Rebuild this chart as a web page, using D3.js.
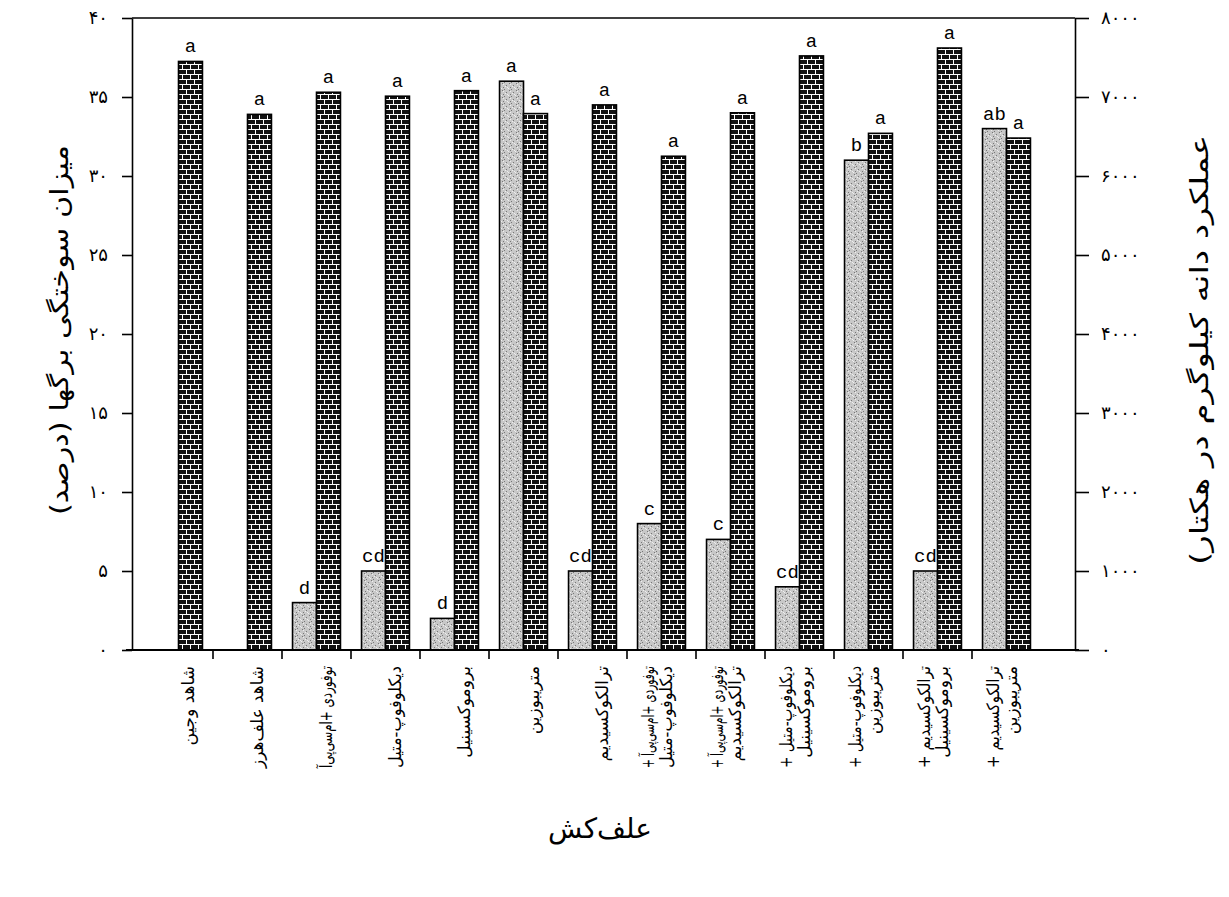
<!doctype html>
<html lang="fa">
<head>
    <meta charset="UTF-8">
    <title>chart</title>
    <script src="https://cdn.jsdelivr.net/npm/d3@7"></script>
    <style>
        body { margin: 0; background: #fff; }
        #chart text { fill: #000; }
        .cat, .ytitle { font-family: "DejaVu Sans", sans-serif; }
        .letter { font-family: "Liberation Mono", "DejaVu Sans Mono", monospace; }
    </style>
</head>
<body>
<svg id="chart" width="1229" height="897"></svg>
<script>
    // treatments (x axis)
    var categories = [
        ['شاهد وجین'],
        ['شاهد علف‌هرز'],
        ['توفوردی +ام‌سی‌پی‌آ'],
        ['دیکلوفوپ-متیل'],
        ['بروموکسینیل'],
        ['متریبوزین'],
        ['ترالکوکسیدیم'],
        ['توفوردی +ام‌سی‌پی‌آ +', 'دیکلوفوپ-متیل'],
        ['توفوردی +ام‌سی‌پی‌آ +', 'ترالکوکسیدیم'],
        ['دیکلوفوپ-متیل +', 'بروموکسینیل'],
        ['دیکلوفوپ-متیل +', 'متریبوزین'],
        ['ترالکوکسیدیم +', 'بروموکسینیل'],
        ['ترالکوکسیدیم +', 'متریبوزین']
    ]
    // leaf burn (%) - left axis, stippled bars
    var burn = [0, 0, 3, 5, 2, 36, 5, 8, 7, 4, 31, 5, 33]
    var burnLetters = ['', '', 'd', 'cd', 'd', 'a', 'cd', 'c', 'c', 'cd', 'b', 'cd', 'ab']
    // grain yield (kg/ha) - right axis, brick bars
    var grain = [7450, 6780, 7060, 7010, 7080, 6790, 6900, 6250, 6800, 7520, 6540, 7620, 6480]
    var grainLetters = ['a', 'a', 'a', 'a', 'a', 'a', 'a', 'a', 'a', 'a', 'a', 'a', 'a']

    var leftTicks = [0, 5, 10, 15, 20, 25, 30, 35, 40]
    var rightTicks = [0, 1000, 2000, 3000, 4000, 5000, 6000, 7000, 8000]

    var xTitle = 'علف‌کش'
    var yLeftTitle = 'میزان سوختگی برگها (درصد)'
    var yRightTitle = 'عملکرد دانه  کیلوگرم در هکتار)'

    var padL = 132, padR = 1075, padT = 18, padB = 650

    function fa(v) {
        return String(v).replace(/\d/g, function(d) { return '۰۱۲۳۴۵۶۷۸۹'[+d] })
    }

    var svg = d3.select('#chart')

    // patterns
    var defs = svg.append('defs')
    var brick = defs.append('pattern')
        .attr('id', 'brick').attr('patternUnits', 'userSpaceOnUse')
        .attr('width', 8).attr('height', 10)
    brick.append('rect').attr('width', 8).attr('height', 10).attr('fill', '#111')
    brick.append('rect').attr('x', 0).attr('y', 4).attr('width', 8).attr('height', 1).attr('fill', '#fff')
    brick.append('rect').attr('x', 0).attr('y', 9).attr('width', 8).attr('height', 1).attr('fill', '#fff')
    brick.append('rect').attr('x', 2).attr('y', 0).attr('width', 1).attr('height', 4).attr('fill', '#fff')
    brick.append('rect').attr('x', 6).attr('y', 5).attr('width', 1).attr('height', 4).attr('fill', '#fff')

    var stip = defs.append('pattern')
        .attr('id', 'stip').attr('patternUnits', 'userSpaceOnUse')
        .attr('width', 7).attr('height', 7)
    stip.append('rect').attr('width', 7).attr('height', 7).attr('fill', '#c8c8c8')
    ;[[0,0],[3,1],[5,4],[1,5],[4,3],[6,6],[2,2],[0,3]].forEach(function(p, i) {
        stip.append('rect').attr('x', p[0]).attr('y', p[1]).attr('width', 1).attr('height', 1)
            .attr('fill', i % 2 ? '#777' : '#eee')
    })

    var idx = d3.range(categories.length)
    var x = d3.scaleBand().domain(idx).range([144, 1041])
    var xSub = d3.scaleBand().domain(['burn', 'grain']).range([0, x.bandwidth()]).paddingOuter(0.44)
    var yL = d3.scaleLinear().domain([0, 40]).range([padB, padT])
    var yR = d3.scaleLinear().domain([0, 8000]).range([padB, padT])

    // frame top line
    svg.append('line').attr('x1', padL).attr('x2', padR).attr('y1', padT).attr('y2', padT)
        .attr('stroke', '#000').attr('stroke-width', 1.5)

    // bars
    idx.forEach(function(i) {
        var g = svg.append('g').attr('transform', 'translate(' + x(i) + ',0)')
        if (burn[i] > 0) {
            g.append('rect')
                .attr('x', xSub('burn')).attr('y', yL(burn[i]))
                .attr('width', xSub.bandwidth()).attr('height', yL(0) - yL(burn[i]))
                .attr('fill', 'url(#stip)').attr('stroke', '#000').attr('stroke-width', 1.6)
            g.append('text').attr('class', 'letter')
                .attr('x', xSub('burn') + xSub.bandwidth() / 2).attr('y', yL(burn[i]) - 9)
                .attr('text-anchor', 'middle').attr('font-size', 19)
                .text(burnLetters[i])
        }
        g.append('rect')
            .attr('x', xSub('grain')).attr('y', yR(grain[i]))
            .attr('width', xSub.bandwidth()).attr('height', yR(0) - yR(grain[i]))
            .attr('fill', 'url(#brick)').attr('stroke', '#000').attr('stroke-width', 1.6)
        g.append('text').attr('class', 'letter')
            .attr('x', xSub('grain') + xSub.bandwidth() / 2).attr('y', yR(grain[i]) - 9)
            .attr('text-anchor', 'middle').attr('font-size', 19)
            .text(grainLetters[i])
    })

    // axes
    var axL = svg.append('g').attr('transform', 'translate(' + padL + ',0)')
        .call(d3.axisLeft(yL).tickValues(leftTicks).tickSize(10).tickSizeOuter(0).tickPadding(14).tickFormat(fa))
    var axR = svg.append('g').attr('transform', 'translate(' + padR + ',0)')
        .call(d3.axisRight(yR).tickValues(rightTicks).tickSize(14).tickSizeOuter(0).tickPadding(12).tickFormat(fa))
    ;[axL, axR].forEach(function(a) {
        a.selectAll('path, line').attr('stroke', '#000').attr('stroke-width', 1.6)
        a.selectAll('text').attr('font-family', 'DejaVu Sans').attr('font-size', 18).attr('fill', '#000')
    })
    axL.selectAll('text').attr('letter-spacing', 3)
    axR.selectAll('text').attr('letter-spacing', 6)

    // x axis line + boundary ticks
    svg.append('line').attr('x1', padL - 6).attr('x2', padR + 4).attr('y1', padB).attr('y2', padB)
        .attr('stroke', '#000').attr('stroke-width', 2)
    svg.selectAll('.xtick').data(idx.slice(1)).enter().append('line')
        .attr('x1', function(i) { return x(i) }).attr('x2', function(i) { return x(i) })
        .attr('y1', padB).attr('y2', padB + 9)
        .attr('stroke', '#000').attr('stroke-width', 1.6)

    // category labels (rotated, reading downward from the axis)
    idx.forEach(function(i) {
        var lines = categories[i]
        var cx = x(i) + x.bandwidth() / 2
        var t = svg.append('text').attr('class', 'cat')
            .attr('transform', 'translate(' + cx + ',666) rotate(-90)')
            .attr('direction', 'rtl')
            .attr('text-anchor', 'start').attr('font-size', 17)
        lines.forEach(function(s, k) {
            var ts = t.append('tspan').attr('x', 0)
                .attr('dy', k === 0 ? (lines.length > 1 ? -8 : 15) : 18)
                .text(s)
            if (ts.node().getComputedTextLength() > 102) {
                ts.attr('textLength', 102).attr('lengthAdjust', 'spacingAndGlyphs')
            }
        })
    })

    // titles
    svg.append('text').attr('class', 'ytitle')
        .attr('transform', 'translate(68,330) rotate(-90)')
        .attr('direction', 'rtl')
        .attr('text-anchor', 'middle').attr('font-size', 25)
        .attr('textLength', 370).attr('lengthAdjust', 'spacingAndGlyphs')
        .text(yLeftTitle)
    svg.append('text').attr('class', 'ytitle')
        .attr('transform', 'translate(1208,350) rotate(-90)')
        .attr('direction', 'rtl')
        .attr('text-anchor', 'middle').attr('font-size', 25)
        .attr('textLength', 430).attr('lengthAdjust', 'spacingAndGlyphs')
        .text(yRightTitle)
    svg.append('text').attr('class', 'ytitle')
        .attr('x', 600).attr('y', 838)
        .attr('text-anchor', 'middle').attr('font-size', 28)
        .text(xTitle)
</script>
</body>
</html>
